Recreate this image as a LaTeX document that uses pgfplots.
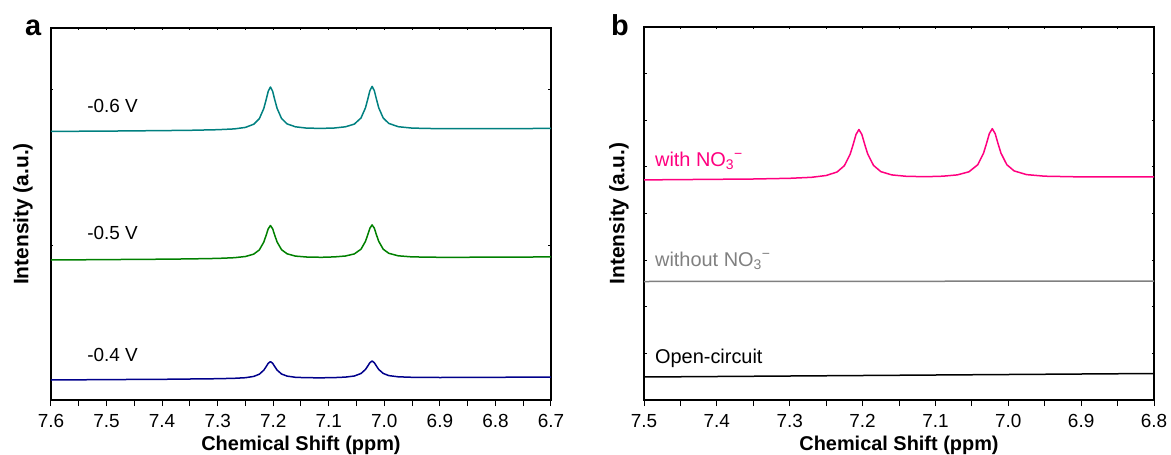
\documentclass[border=0pt]{standalone}
\usepackage{pgfplots}
\pgfplotsset{compat=1.18}
\usepackage{pgfplotstable}
\usepackage{fontspec}
\setmainfont{Liberation Sans}

\definecolor{cTeal}{RGB}{0,128,128}
\definecolor{cGreen}{RGB}{0,128,0}
\definecolor{cNavy}{RGB}{0,0,139}
\definecolor{cPink}{RGB}{255,0,127}
\definecolor{cGray}{RGB}{128,128,128}

% 1H NMR spectra at three potentials (offset for clarity)
\pgfplotstableread{
x      a4    a5     a6
7.6    20.0  140.0  268.6
7.5    20.4  140.4  268.9
7.4    20.7  140.8  269.4
7.35   21.0  141.1  269.7
7.3    21.3  141.6  270.3
7.27   21.7  142.3  271.1
7.25   22.3  143.5  272.6
7.235  23.6  145.9  275.8
7.225  25.8  150.1  281.3
7.217  29.8  157.9  291.5
7.213  33.1  164.3  299.7
7.209  36.7  171.1  308.7
7.205  38.4  174.5  313.0
7.201  36.7  171.2  308.7
7.197  33.2  164.3  299.8
7.193  29.9  158.0  291.6
7.185  26.0  150.3  281.5
7.175  23.9  146.2  276.1
7.16   22.7  143.9  273.2
7.14   22.3  143.0  271.9
7.1135 22.2  142.7  271.6
7.09   22.4  143.1  272.0
7.07   22.9  144.0  273.2
7.054  24.0  146.1  275.9
7.042  26.5  150.8  282.0
7.034  30.5  158.6  292.1
7.03   33.8  164.9  300.4
7.026  37.3  171.8  309.3
7.022  39.0  175.1  313.6
7.018  37.3  171.8  309.3
7.014  33.8  164.9  300.4
7.01   30.5  158.6  292.1
7.002  26.6  150.8  282.0
6.992  24.4  146.7  276.6
6.975  23.2  144.2  273.3
6.95   22.7  143.1  271.9
6.9    22.5  142.7  271.3
6.8    22.7  142.8  271.3
6.7    23.0  143.1  271.6
}\tblA

% spectrum with nitrate in the electrolyte
\pgfplotstableread{
x      w
7.5    220.1
7.4    220.7
7.35   221.0
7.3    221.7
7.27   222.7
7.25   224.5
7.235  228.0
7.225  234.3
7.217  245.9
7.213  255.3
7.209  265.5
7.205  270.5
7.201  265.6
7.197  255.5
7.193  246.1
7.185  234.6
7.175  228.4
7.16   225.1
7.14   223.7
7.1135 223.3
7.09   223.8
7.07   225.1
7.054  228.2
7.042  235.2
7.034  246.8
7.03   256.2
7.026  266.4
7.022  271.3
7.018  266.4
7.014  256.2
7.01   246.8
7.002  235.3
6.992  229.1
6.975  225.4
6.95   223.8
6.9    223.1
6.8    223.2
}\tblB

\pgfplotsset{
  nmr/.style={
    scale only axis,
    x dir=reverse,
    axis line style={line width=1.2bp},
    every tick/.style={black, line width=1bp},
    tick align=outside,
    major tick length=6bp,
    minor tick length=6bp,
    xtick pos=lower,
    ytick=\empty,
    minor x tick num=1,
    xtick distance=0.1,
    xticklabel style={font=\fontsize{19}{19}\selectfont, yshift=-5bp,
      /pgf/number format/.cd, fixed, fixed zerofill, precision=1,
      assume math mode=true},
    every axis x label/.style={at={(axis description cs:0.5,0)}, yshift=-45bp,
      anchor=center, font=\fontsize{20}{20}\selectfont\bfseries},
    xlabel={Chemical Shift (ppm)},
    ylabel={Intensity (a.u.)},
    every axis plot/.append style={line width=1.5bp, line join=round},
  },
  % short inner ticks on the left, right and top edges
  frameticks/.style={
    scale only axis,
    x dir=reverse,
    axis line style={draw=none},
    every tick/.style={black, line width=1bp},
    tick align=inside,
    major tick length=2.5bp,
    minor tick length=2bp,
    xtick pos=upper,
    ytick pos=both,
    minor x tick num=1,
    xtick distance=0.1,
    xticklabels={}, yticklabels={},
  }
}

\begin{document}
\begin{tikzpicture}
\path[use as bounding box] (0,0) rectangle (1171bp,-455bp);

\node[anchor=base west, inner sep=0, font=\fontsize{29}{29}\selectfont\bfseries] at (25bp,-35bp) {a};
\node[anchor=base west, inner sep=0, font=\fontsize{29}{29}\selectfont\bfseries] at (611bp,-35bp) {b};

\begin{axis}[frameticks,
  at={(51bp,-400bp)}, anchor=south west,
  width=500bp, height=372bp,
  xmin=6.7, xmax=7.6, ymin=0, ymax=372,
  ytick={0,155,310},
]
\end{axis}

\begin{axis}[nmr,
  at={(51bp,-400bp)}, anchor=south west,
  width=500bp, height=372bp,
  xmin=6.7, xmax=7.6, ymin=0, ymax=372,
  every axis y label/.style={at={(axis description cs:0,0.5)}, xshift=-28bp,
    rotate=90, anchor=center, font=\fontsize{21}{21}\selectfont\bfseries},
]
\addplot[cNavy] table[x=x, y=a4] {\tblA};
\addplot[cGreen] table[x=x, y=a5] {\tblA};
\addplot[cTeal] table[x=x, y=a6] {\tblA};
\node[anchor=base west, inner sep=0, font=\fontsize{19}{19}\selectfont] at (axis cs:7.535,288) {-0.6 V};
\node[anchor=base west, inner sep=0, font=\fontsize{19}{19}\selectfont] at (axis cs:7.535,161) {-0.5 V};
\node[anchor=base west, inner sep=0, font=\fontsize{19}{19}\selectfont] at (axis cs:7.535,39) {-0.4 V};
\end{axis}

\begin{axis}[frameticks,
  at={(644bp,-400bp)}, anchor=south west,
  width=510bp, height=373bp,
  xmin=6.8, xmax=7.5, ymin=0, ymax=373,
  ytick distance=46.625,
]
\end{axis}

\begin{axis}[nmr,
  at={(644bp,-400bp)}, anchor=south west,
  width=510bp, height=373bp,
  xmin=6.8, xmax=7.5, ymin=0, ymax=373,
  every axis y label/.style={at={(axis description cs:0,0.5)}, xshift=-25bp,
    rotate=90, anchor=center, font=\fontsize{21}{21}\selectfont\bfseries},
]
\addplot[black] coordinates {(7.5,23.0) (7.3,24.0) (7.1,25.0) (6.9,26.0) (6.8,26.5)};
\addplot[cGray] coordinates {(7.5,118.5) (7.15,118.7) (6.8,119.0)};
\addplot[cPink] table[x=x, y=w] {\tblB};
\node[anchor=base west, inner sep=0, font=\fontsize{20}{20}\selectfont, text=cPink] at (axis cs:7.485,234) {with NO\textsubscript{3}\textsuperscript{\char"2212}};
\node[anchor=base west, inner sep=0, font=\fontsize{20}{20}\selectfont, text=cGray] at (axis cs:7.485,134) {without NO\textsubscript{3}\textsuperscript{\char"2212}};
\node[anchor=base west, inner sep=0, font=\fontsize{20}{20}\selectfont] at (axis cs:7.485,37) {Open-circuit};
\end{axis}
\end{tikzpicture}
\end{document}
